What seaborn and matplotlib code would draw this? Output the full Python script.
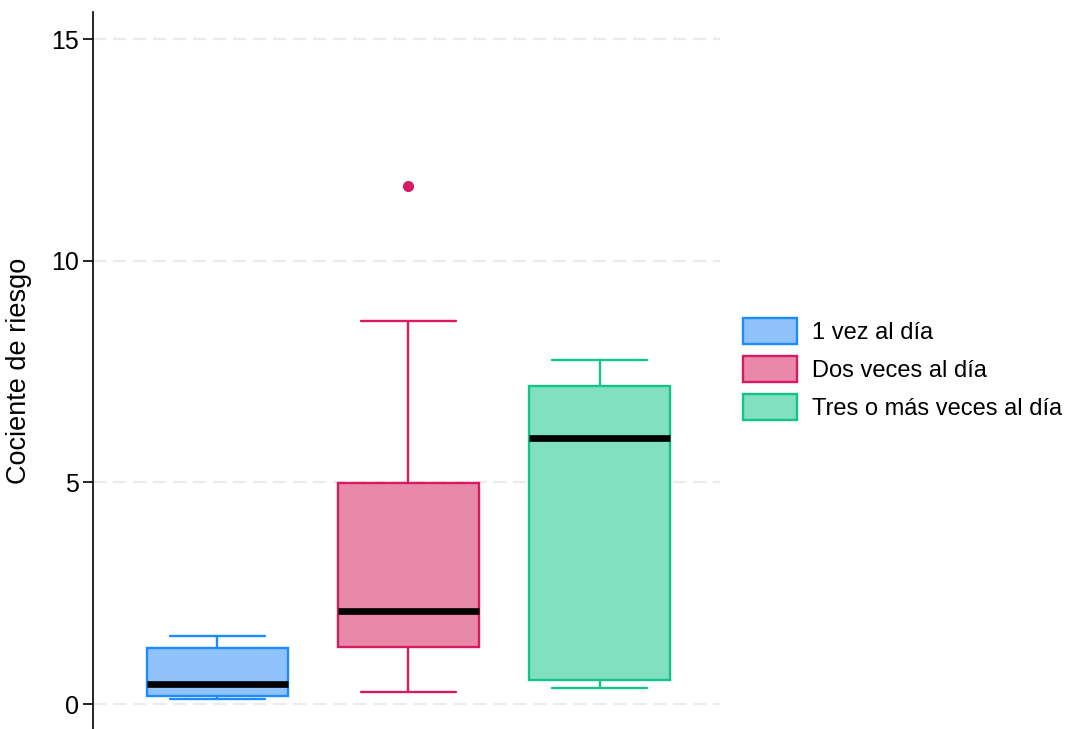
import numpy as np
import pandas as pd
import matplotlib
matplotlib.use("Agg")
import matplotlib.pyplot as plt
from matplotlib.patches import Patch
import seaborn as sns

# ---- data ----
groups = ["1 vez al día", "Dos veces al día", "Tres o más veces al día"]
vals_1 = [0.11, 0.18, 0.45, 1.26, 1.53]
vals_2 = [0.27, 0.80, 1.29, 1.70, 2.10, 3.50, 4.99, 8.64, 11.68]
vals_3 = [0.36, 0.54, 6.00, 7.17, 7.76]
y_ticks = [0, 5, 10, 15]
y_label = "Cociente de riesgo"

fill_colors = ["#8fc1fb", "#e889a9", "#81e0c0"]
edge_colors = ["#1e8cff", "#d81b60", "#13c487"]

df = pd.DataFrame({
    "grupo": [groups[0]] * len(vals_1) + [groups[1]] * len(vals_2) + [groups[2]] * len(vals_3),
    "valor": vals_1 + vals_2 + vals_3,
})

sns.set_theme(style="white")
plt.rcParams["font.family"] = ["Liberation Sans", "DejaVu Sans"]
plt.rcParams["text.color"] = "black"
plt.rcParams["axes.labelcolor"] = "black"
plt.rcParams["ytick.color"] = "black"

fig = plt.figure(figsize=(10.7, 7.29), dpi=100)
ax = fig.add_axes([93 / 1070, 0.0, (720 - 93) / 1070, 1 - 12 / 729])

box_w = 0.74
for g, fc, ec in zip(groups, fill_colors, edge_colors):
    sub = df[df["grupo"] == g]
    sns.boxplot(
        data=sub, x="grupo", y="valor", order=groups, color=fc, linecolor=ec,
        saturation=1, width=box_w, linewidth=1.7, ax=ax,
        medianprops=dict(color="black", linewidth=4.8, solid_capstyle="butt"),
        flierprops=dict(marker="o", markerfacecolor=ec, markeredgecolor=ec, markersize=7),
    )

# widen whisker caps to match the reference
for ln in ax.lines:
    xd = np.asarray(ln.get_xdata(), dtype=float)
    yd = np.asarray(ln.get_ydata(), dtype=float)
    if len(xd) == 2 and np.isclose(yd[0], yd[1]):
        w = abs(xd[1] - xd[0])
        if np.isclose(w, box_w * 0.5, atol=0.02):
            c = xd.mean()
            half = box_w * 0.675 / 2
            ln.set_xdata([c - half, c + half])

ax.set_xlim(-0.65, 2.63)
ax.set_ylim(-0.56, 15.61)
ax.set_yticks(y_ticks)
ax.set_yticklabels([str(t) for t in y_ticks], fontsize=18)
ax.set_xticks([])
ax.set_xlabel("")
ax.set_ylabel(y_label, fontsize=19.5, color="black")
ax.yaxis.set_label_coords(-0.097, 0.5)
ax.tick_params(axis="y", left=True, length=7, width=1.2, pad=3, colors="black")

for t in y_ticks:
    ax.axhline(t, color="#ebebeb", linewidth=1.6, linestyle=(0, (6, 3)), zorder=0)

for s in ["top", "right", "bottom"]:
    ax.spines[s].set_visible(False)
ax.spines["left"].set_color("black")
ax.spines["left"].set_linewidth(1.2)

handles = [Patch(facecolor=fc, edgecolor=ec, linewidth=1.7, label=g)
           for g, fc, ec in zip(groups, fill_colors, edge_colors)]
leg = fig.legend(handles=handles, loc="upper left", bbox_to_anchor=(743 / 1070, 1 - 318 / 729),
                 frameon=False, fontsize=17, handlelength=2.3, handleheight=1.3,
                 labelspacing=0.52, handletextpad=0.62, borderpad=0, borderaxespad=0)
for txt in leg.get_texts():
    txt.set_color("black")

fig.savefig("out.png", dpi=100)
